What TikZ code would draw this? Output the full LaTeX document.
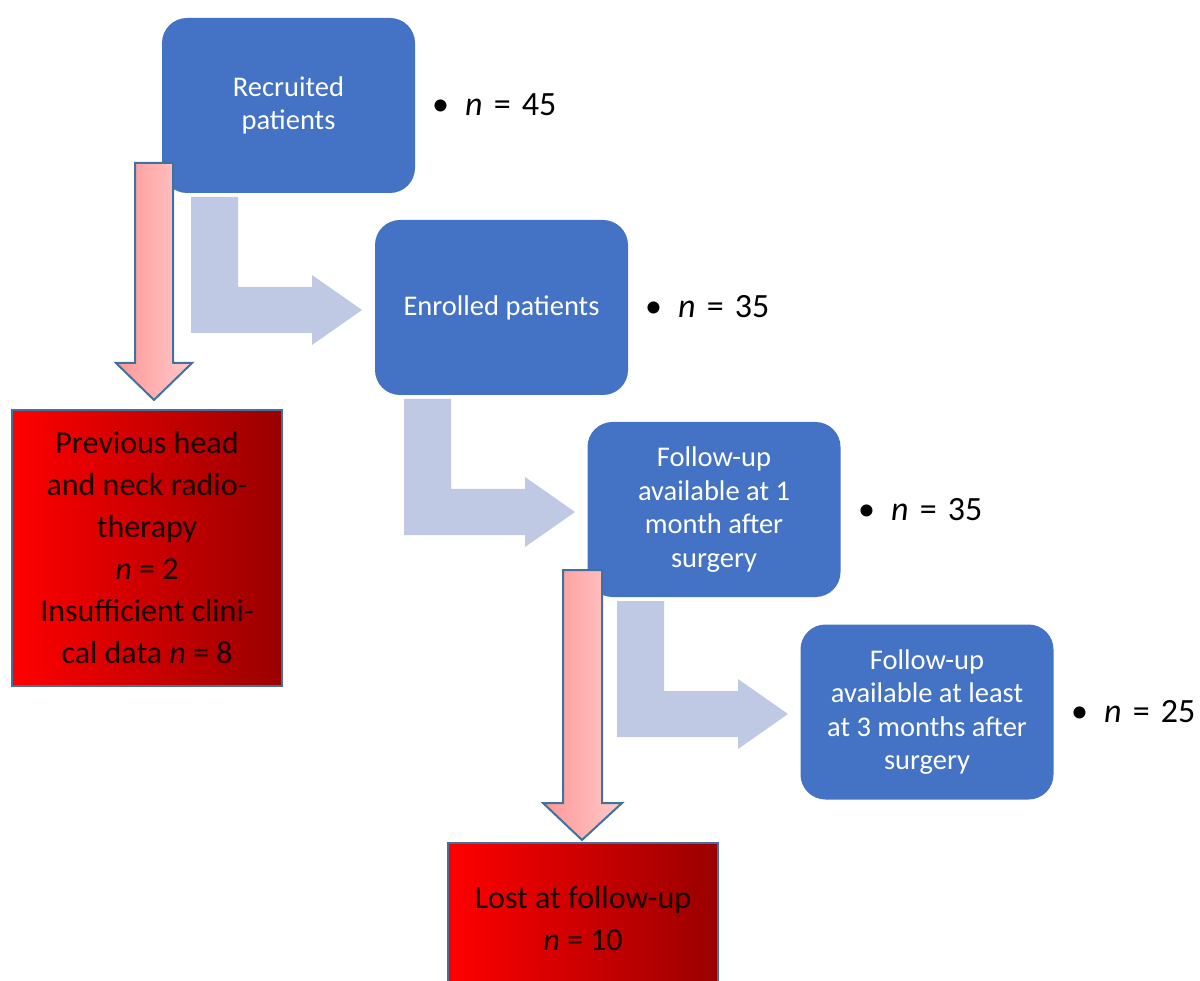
\documentclass[tikz,border=0pt]{standalone}
\usepackage{fontspec}
\setmainfont{Carlito}
\definecolor{boxblue}{HTML}{4472C4}
\definecolor{lightarrow}{HTML}{BFC9E3}
\definecolor{redborder}{HTML}{41719C}
\definecolor{pinkL}{HTML}{FF9696}
\definecolor{pinkR}{HTML}{FFCACA}
\definecolor{redL}{HTML}{FF0000}
\definecolor{redR}{HTML}{990000}
\tikzset{
  bluebox/.style={fill=boxblue, rounded corners=25pt, minimum width=253pt, minimum height=175pt,
    text=white, align=center, font=\fontsize{28.5}{33.5}\selectfont, inner sep=0pt},
  redbox/.style={draw=redborder, line width=2pt, left color=redL, right color=redR,
    minimum width=270pt, minimum height=276pt, align=center, text=black!90!red,
    font=\fontsize{32}{42}\selectfont, inner sep=0pt},
  countlabel/.style={anchor=west, font=\fontsize{34}{40}\selectfont, inner sep=0pt},
  bentarrow/.style={fill=lightarrow},
  redarrow/.style={draw=redborder, line width=2pt, left color=pinkL, right color=pinkR, line join=miter}
}
\newcommand{\counttext}[1]{•\hspace{16pt}\textit{n}\hspace{0.33em}=\hspace{0.33em}#1}
\begin{document}
\begin{tikzpicture}[x=1pt,y=-1pt]
\useasboundingbox (0,0) rectangle (1200,981);
% blue boxes
\node[bluebox] (rec) at (288.5,105.5) {Recruited\\patients};
\node[bluebox] (enr) at (501.5,307.5) {Enrolled patients};
\node[bluebox] (fu1) at (714,509.5) {Follow-up\\available at 1\\month after\\surgery};
\node[bluebox] (fu3) at (927,712) {Follow-up\\available at least\\at 3 months after\\surgery};
% counts
\node[countlabel] (c1) at (432,105) {\counttext{45}};
\node[countlabel] (c2) at (645,307) {\counttext{35}};
\node[countlabel] (c3) at (858,510) {\counttext{35}};
\node[countlabel] (c4) at (1071,712) {\counttext{25}};
% bent arrows
\foreach \dx/\dy in {0/0, 213/202, 426/404}{
  \fill[bentarrow, shift={(\dx,\dy)}] (191,197) -- (238,197) -- (238,287) -- (312,287) -- (312,275)
     -- (362,310) -- (312,345) -- (312,333) -- (191,333) -- cycle;
}
% red boxes
\node[redbox] (excl) at (147,548) {Previous head\\and neck radio-\\therapy\\\textit{n} = 2\\Insufficient clini-\\cal data \textit{n} = 8};
\node[redbox, minimum height=150pt] (lost) at (583,918) {Lost at follow-up\\\textit{n} = 10};
% red arrows
\draw[redarrow] (135,163) -- (173,163) -- (173,363) -- (192,363) -- (154,400) -- (116,363) -- (135,363) -- cycle;
\draw[redarrow] (563,570) -- (602,570) -- (602,803) -- (622,803) -- (582,840) -- (543,803) -- (563,803) -- cycle;
\end{tikzpicture}
\end{document}
